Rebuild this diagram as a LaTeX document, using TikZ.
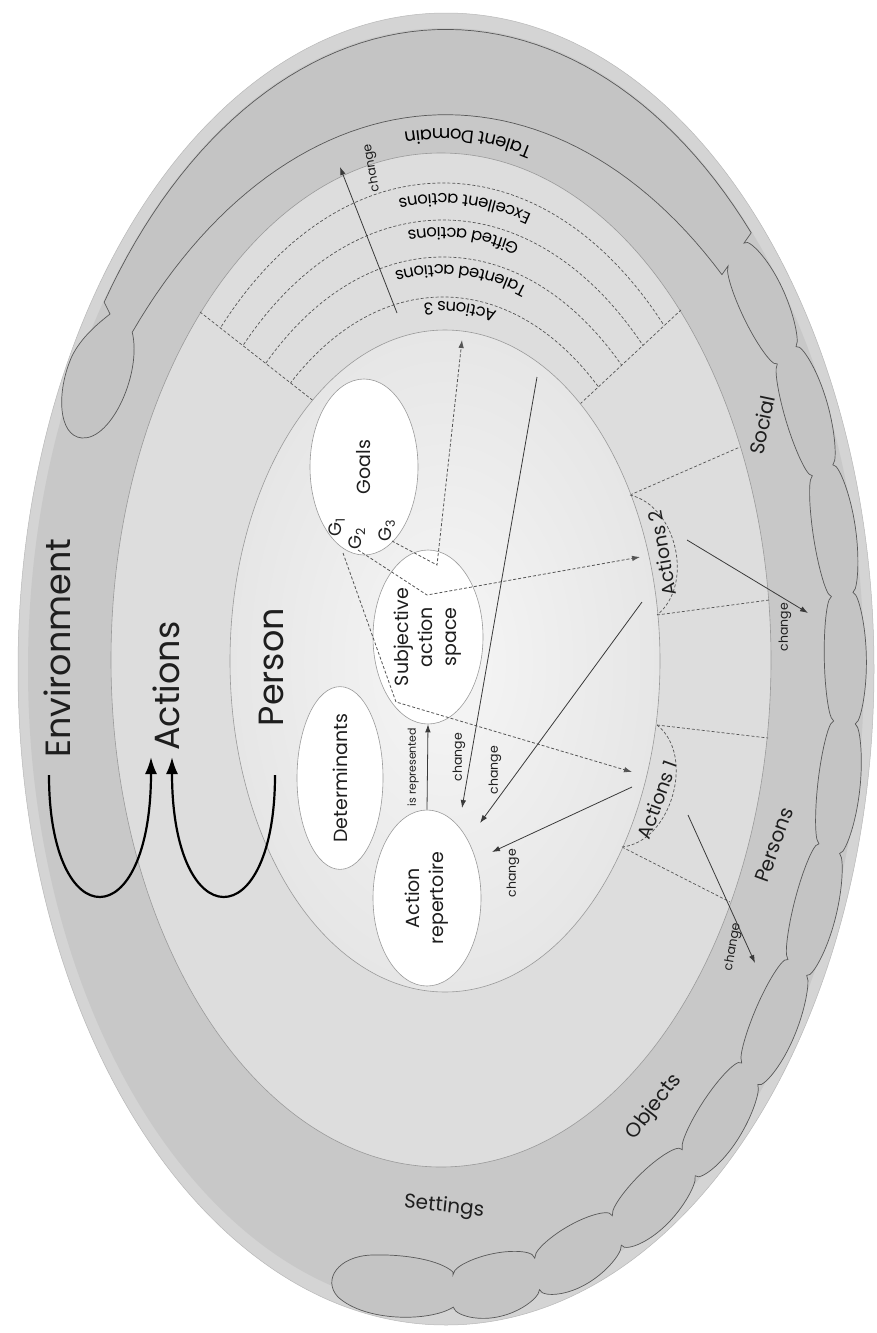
\documentclass[tikz,border=0pt]{standalone}
\usepackage{fontspec}
\usepackage{graphicx}
\setmainfont{Poppins}
\usetikzlibrary{arrows.meta,shapes.geometric,decorations.text}
\definecolor{envc}{HTML}{C8C8C8}
\definecolor{rimc}{HTML}{D4D4D4}
\definecolor{cloudc}{HTML}{C4C4C4}
\definecolor{actc}{HTML}{DDDDDD}
\definecolor{perin}{HTML}{F6F6F6}
\definecolor{perout}{HTML}{E6E6E6}
\definecolor{edgec}{HTML}{9A9A9A}
\definecolor{linec}{HTML}{3A3A3A}
\definecolor{dashc}{HTML}{555555}
\definecolor{txtc}{HTML}{1E1E1E}
\newcommand\fbig{\fontsize{35}{38}\selectfont}
\newcommand\fmid{\fontsize{19}{24}\selectfont}
\newcommand\fring{\fontsize{20}{22}\selectfont}
\newcommand\farc{\fontsize{16.5}{18}\selectfont}
\newcommand\ftd{\fontsize{18}{20}\selectfont}
\newcommand\fsmall{\fontsize{12.5}{13}\selectfont}
\newcommand\ftiny{\fontsize{11}{12}\selectfont}
\newcommand\fgee{\fontsize{18}{18}\selectfont}
\begin{document}
\begin{tikzpicture}[x=1pt,y=-1pt,
  bubble/.style={ellipse, draw=edgec, line width=0.6pt, fill=white, inner sep=0pt, text=txtc, font=\fmid},
  biglabel/.style={text=txtc, font=\fbig, inner sep=0pt, rotate=90},
  ringlabel/.style={text=txtc, font=\fring, inner sep=0pt},
  glabel/.style={text=txtc, font=\fgee, inner sep=0pt, rotate=90},
  chg/.style={text=txtc, font=\fsmall, inner sep=0pt},
  solidarrow/.style={draw=linec, line width=0.8pt, -{Latex[length=8pt,width=5.5pt]}},
  dasharrow/.style={draw=dashc, line width=0.8pt, dash pattern=on 3pt off 2pt, -{Latex[length=8pt,width=5.5pt]}},
  dashline/.style={draw=dashc, line width=0.7pt, dash pattern=on 3pt off 2pt},
  bigarrow/.style={draw=black, line width=2.2pt, -{Latex[length=17pt,width=12pt]}},
]
\fill[white] (0,0) rectangle (877,1333);
\useasboundingbox (0,0) rectangle (877,1333);

% environment
\fill[rimc] (446,669) ellipse[x radius=428, y radius=656];
\fill[envc] (446,669) ellipse[x radius=418, y radius=641];
\draw[edgec!70, line width=0.5pt] (446,669) ellipse[x radius=428, y radius=656];

% talent domain cloud
\def\cro{(0.952+0.02*(\x+43)/132+0.024*sqrt(abs(sin(15*(\x+43)))))}
\def\cri{(0.902+0.022*(132-\x)/132-0.025*sqrt(abs(sin(15*(132-\x)))))}
\def\crs{(0.845+0.05*((47-\x)/55)^2)}
\filldraw[fill=cloudc, draw=linec!85, line width=0.7pt]
  plot[domain=-145:-43, samples=60] ({446+417.3*cos(\x)},{669+639.6*sin(\x)})
  -- plot[domain=-43:89, samples=441] ({446+428*\cro*cos(\x)},{669+656*\cro*sin(\x)})
  .. controls (430,1322) and (365,1322) .. (338,1297)
  .. controls (322,1280) and (338,1256) .. (372,1255)
  .. controls (405,1254) and (440,1260) .. (453,1272)
  -- plot[domain=0:132, samples=441] ({446+428*\cri*cos(89-\x)},{669+656*\cri*sin(89-\x)})
  -- plot[domain=0:102, samples=60] ({446+428*\crs*cos(-43-\x)},{669+656*\crs*sin(-43-\x)})
  .. controls (142,372) and (112,440) .. (82,438)
  .. controls (58,436) and (56,392) .. (72,356)
  .. controls (82,336) and (100,322) .. (110,314)
  -- cycle;

% actions ellipse
\filldraw[fill=actc, draw=edgec, line width=0.6pt] (441,660) ellipse[x radius=330, y radius=507];

% actions 3 sector
\begin{scope}
\clip (312.6,400.2) -- (31,180) -- (31,0) -- (832,0) -- (832,169) -- (580.3,403.8) -- cycle;
\foreach \ry in {477,440,403,363} \draw[dashline] (443,660) ellipse[x radius={0.65*\ry}, y radius=\ry];
\end{scope}
\coordinate (a3Li) at (312.6,400.2); \coordinate (a3Lo) at (200,312);
\coordinate (a3Ri) at (580.3,403.8); \coordinate (a3Ro) at (681,310);
\draw[dashline] (a3Li) -- (a3Lo);
\draw[dashline] (a3Ri) -- (a3Ro);

% actions 2 and 1 sectors
\coordinate (a2Ui) at (630,495); \coordinate (a2Uo) at (740,447);
\coordinate (a2Li) at (657,615); \coordinate (a2Lo) at (769,600);
\coordinate (a1Ui) at (657,725); \coordinate (a1Uo) at (768,738);
\coordinate (a1Li) at (622,847); \coordinate (a1Lo) at (730,902);
\draw[dashline] (a2Ui) -- (a2Uo);
\draw[dashline] (a2Li) -- (a2Lo);
\draw[dashline] (a1Ui) -- (a1Uo);
\draw[dashline] (a1Li) -- (a1Lo);

% person ellipse
\shade[inner color=perin, outer color=perout] (445,661) ellipse[x radius=215, y radius=331];
\draw[edgec, line width=0.6pt] (445,661) ellipse[x radius=215, y radius=331];

\draw[dashline] (a2Ui) to[bend left=64] (a2Li);
\draw[dashline] (a1Ui) to[bend left=68] (a1Li);

% arc labels
\path[decorate, decoration={text along path, text align=center, text={|\ftd|Talent Domain}}]
  (443,660) ++(-22:345 and 531) arc[start angle=-22, end angle=-152, x radius=345, y radius=531];
\path[decorate, decoration={text along path, text align=center, text={|\farc|Excellent actions}}]
  (443,660) ++(-22:303 and 466) arc[start angle=-22, end angle=-152, x radius=303, y radius=466];
\path[decorate, decoration={text along path, text align=center, text={|\farc|Gifted actions}}]
  (443,660) ++(-22:281 and 432) arc[start angle=-22, end angle=-152, x radius=281, y radius=432];
\path[decorate, decoration={text along path, text align=center, text={|\farc|Talented actions}}]
  (443,660) ++(-22:257 and 395) arc[start angle=-22, end angle=-152, x radius=257, y radius=395];
\path[decorate, decoration={text along path, text align=center, text={|\farc|Actions 3}}]
  (443,660) ++(-22:233 and 358) arc[start angle=-22, end angle=-152, x radius=233, y radius=358];

% bubbles
\node[bubble, minimum width=108pt, minimum height=176pt] (goals) at (364,467) {\rotatebox{90}{Goals}};
\node[bubble, minimum width=110pt, minimum height=174pt] (sas) at (428,637)
  {\rotatebox{90}{\begin{tabular}{@{}c@{}}Subjective\\action\\space\end{tabular}}};
\node[bubble, minimum width=86pt, minimum height=140pt] (det) at (340,778) {\rotatebox{90}{Determinants}};
\node[bubble, minimum width=108pt, minimum height=176pt] (rep) at (427,898)
  {\rotatebox{90}{\begin{tabular}{@{}c@{}}Action\\repertoire\end{tabular}}};

% goal labels
\node[glabel] (g1) at (337,527) {G\textsubscript{1}};
\node[glabel] (g2) at (357,539) {G\textsubscript{2}};
\node[glabel] (g3) at (387,531) {G\textsubscript{3}};

% big labels
\node[biglabel] (envL) at (57,648) {Environment};
\node[biglabel] (actL) at (166,686) {Actions};
\node[biglabel] (perL) at (271,667) {Person};
\coordinate (e1) at (49,775); \coordinate (e2) at (151,757);
\coordinate (p1) at (275,775); \coordinate (p2) at (172,757);
\draw[bigarrow] (e1) .. controls (49,938) and (151,938) .. (e2);
\draw[bigarrow] (p1) .. controls (275,938) and (172,938) .. (p2);

% ring labels
\node[ringlabel, rotate=78] (social) at (762,425) {Social};
\node[ringlabel, rotate=70] (persons) at (774,845) {Persons};
\node[ringlabel, rotate=52] (objects) at (654,1107) {Objects};
\node[ringlabel, rotate=-6] (settings) at (444,1207) {Settings};
\node[text=txtc, font=\fmid, inner sep=0pt, rotate=100] (act2) at (662,553) {Actions 2};
\node[text=txtc, font=\fmid, inner sep=0pt, rotate=70] (act1) at (657,800) {Actions 1};

% solid arrows
\coordinate (a3s) at (397,313); \coordinate (a3t) at (340,167);
\coordinate (lA) at (537,377); \coordinate (lB) at (462,808);
\coordinate (a2s) at (642,602); \coordinate (a2t) at (480,823);
\coordinate (a1s) at (632,787); \coordinate (a1t) at (492,852);
\coordinate (a1e) at (688,815); \coordinate (a1f) at (755,963);
\coordinate (a2e) at (687,540); \coordinate (a2f) at (808,613);
\draw[solidarrow] (rep.north) -- (sas.south);
\draw[solidarrow] (a3s) -- (a3t);
\draw[solidarrow] (lA) -- (lB);
\draw[solidarrow] (a2s) -- (a2t);
\draw[solidarrow] (a1s) -- (a1t);
\draw[solidarrow] (a1e) -- (a1f);
\draw[solidarrow] (a2e) -- (a2f);

% dashed arrows from goals
\coordinate (g1s) at (343,553); \coordinate (g1k) at (396,702); \coordinate (g1t) at (632,772);
\coordinate (g2s) at (358,550); \coordinate (g2k) at (427,595); \coordinate (g2t) at (640,557);
\coordinate (g3s) at (392,541); \coordinate (g3k) at (437,565); \coordinate (g3t) at (462,340);
\draw[dasharrow] (g1s) -- (g1k) -- (g1t);
\draw[dasharrow] (g2s) -- (g2k) -- (g2t);
\draw[dasharrow] (g3s) -- (g3k) -- (g3t);

% small labels
\node[chg, font=\ftiny, rotate=90] (isrep) at (413,767) {is represented};
\node[chg, rotate=100] (c0) at (372,168) {change};
\node[chg, rotate=90] (c1) at (459,757) {change};
\node[chg, rotate=90] (c2) at (495,770) {change};
\node[chg, rotate=90] (c3) at (513,873) {change};
\node[chg, rotate=90] (c4) at (785,627) {change};
\node[chg, rotate=80] (c5) at (733,947) {change};
\end{tikzpicture}
\end{document}
